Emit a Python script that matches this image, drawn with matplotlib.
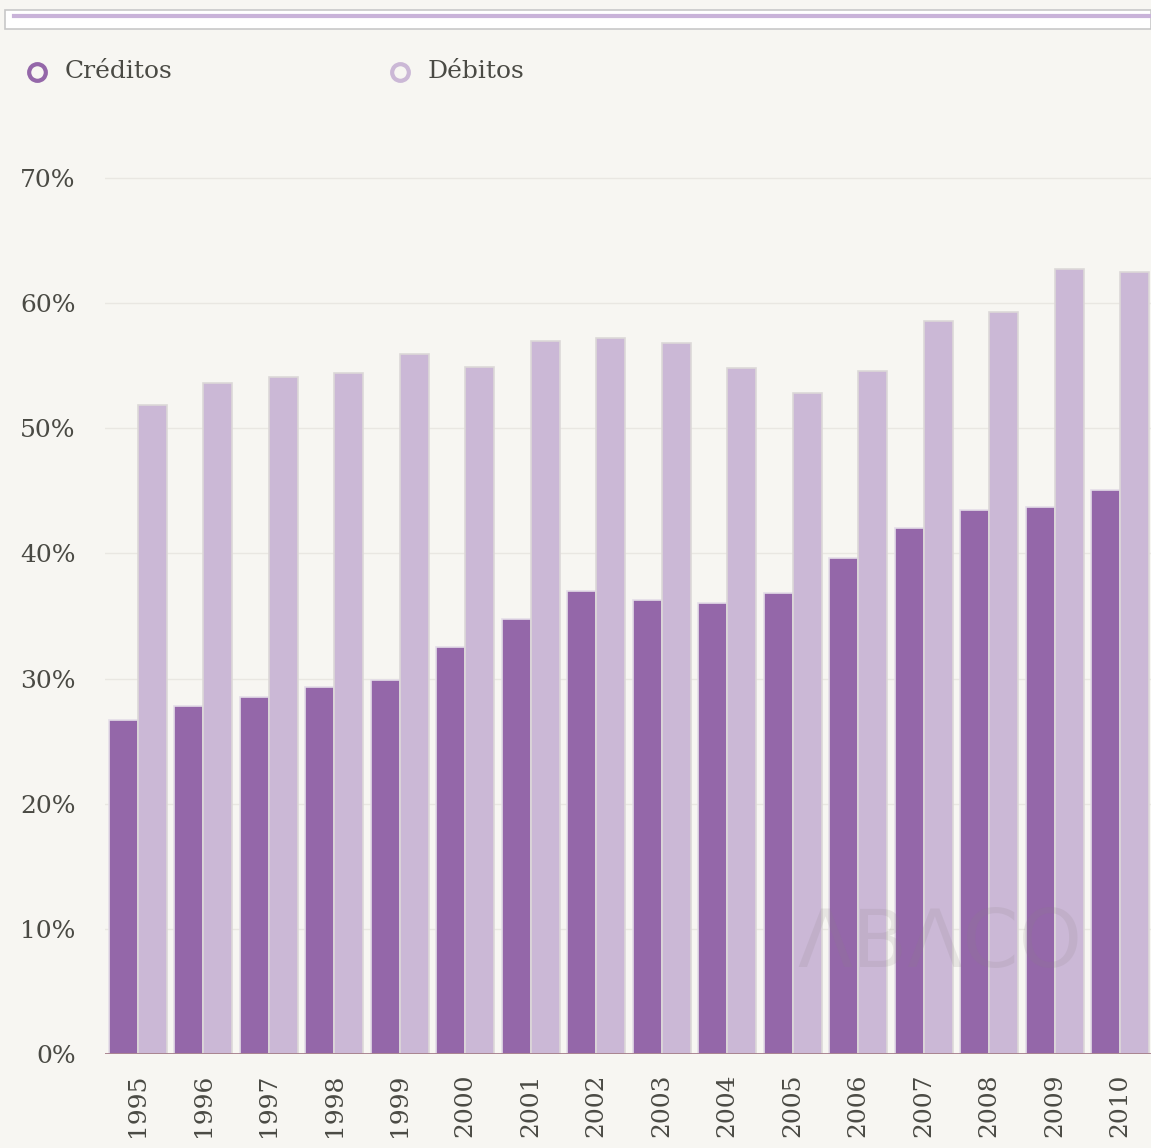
import matplotlib.pyplot as plt
import numpy as np
from matplotlib.patches import Rectangle
from matplotlib.lines import Line2D

years = ['1995', '1996', '1997', '1998', '1999', '2000', '2001', '2002',
         '2003', '2004', '2005', '2006', '2007', '2008', '2009', '2010']
creditos = [26.7, 27.8, 28.5, 29.3, 29.9, 32.5, 34.8, 37.0,
            36.3, 36.0, 36.8, 39.6, 42.0, 43.5, 43.7, 45.1]
debitos = [51.9, 53.6, 54.1, 54.4, 55.9, 54.9, 57.0, 57.2,
           56.8, 54.8, 52.8, 54.6, 58.6, 59.3, 62.7, 62.5]
yticks = [0, 10, 20, 30, 40, 50, 60, 70]

bg = '#f7f6f2'
c_cred = '#9467a9'
c_deb = '#cbb8d6'
txt = '#4a4a44'
serif = ['DejaVu Serif']

W, H = 1151, 1148
fig = plt.figure(figsize=(W / 100, H / 100), dpi=100, facecolor=bg)

# axes: left x=105, right ~1153 px; y 0 at 1054, 70 at 178
x0, x1 = 105, 1153
ytop = 178 - (1054 - 178) / 70 * 4  # headroom to 74
ax = fig.add_axes([x0 / W, 1 - 1054 / H, (x1 - x0) / W, (1054 - ytop) / H])
ax.set_facecolor(bg)
ax.set_ylim(0, 74)
ax.set_xlim(-0.5, len(years) - 0.5)

x = np.arange(len(years))
bw = 0.44
ax.bar(x - 0.22, creditos, bw, color=c_cred, edgecolor='#e4dde8', linewidth=1.2, zorder=3)
ax.bar(x + 0.22, debitos, bw, color=c_deb, edgecolor='#dcd8d8', linewidth=1.2, zorder=3)

for s in ax.spines.values():
    s.set_visible(False)
ax.axhline(0, color='#a57d8a', lw=2, zorder=4)
for t in yticks[1:]:
    ax.axhline(t, color='#e9e7e2', lw=1, zorder=1)

ax.set_yticks(yticks)
ax.set_yticklabels([f'{t}%' for t in yticks], family=serif, fontsize=18, color=txt)
ax.tick_params(axis='y', length=0, pad=21)
ax.set_xticks(x)
ax.set_xticklabels(years, rotation=90, family=serif, fontsize=18, color=txt)
ax.tick_params(axis='x', length=0, pad=14)

# watermark
ax.text(12.25, 8.7, 'ΛBΛCO', fontsize=58, color='#8a8282', alpha=0.15,
        ha='center', va='center', family='DejaVu Sans', zorder=5)

# range selector strip at top
fig.patches.append(Rectangle((5 / W, 1 - 29 / H), (W - 5) / W, 19 / H,
                             transform=fig.transFigure, facecolor='white',
                             edgecolor='#c8c8c8', lw=1.2))
fig.lines.append(Line2D([14 / W, 1], [1 - 15.5 / H, 1 - 15.5 / H],
                        transform=fig.transFigure, color='#c9b3d9', lw=3))

# legend
for lx, col, lab in [(37, c_cred, 'Créditos'), (400, c_deb, 'Débitos')]:
    fig.lines.append(Line2D([lx / W], [1 - 72 / H], transform=fig.transFigure,
                            marker='o', markersize=12, markerfacecolor=bg,
                            markeredgecolor=col, markeredgewidth=3))
    fig.text((lx + 28) / W, 1 - 72 / H, lab, family=serif, fontsize=18,
             color=txt, va='center', ha='left')

fig.savefig('out.png', dpi=100, facecolor=bg)
